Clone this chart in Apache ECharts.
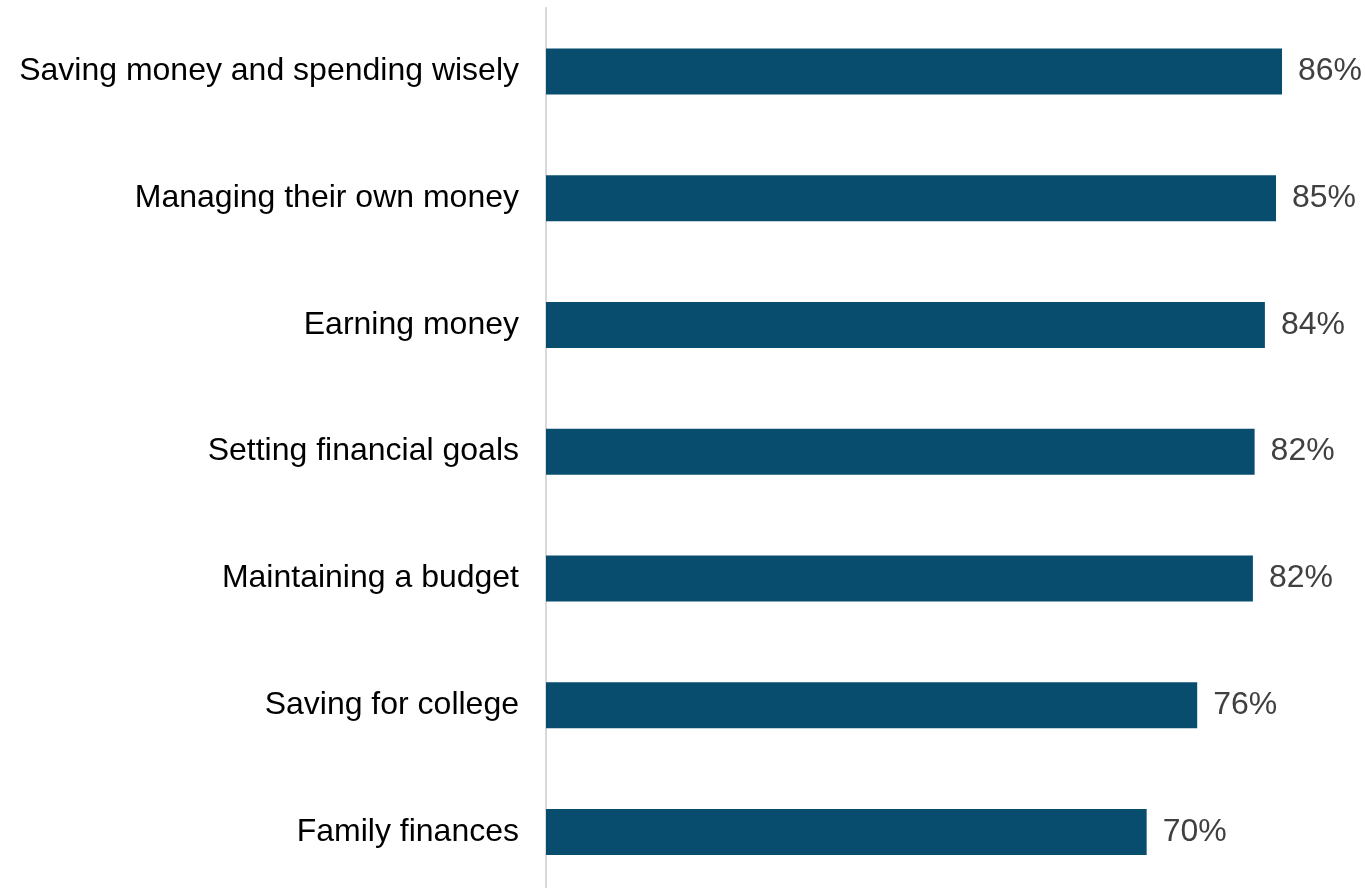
<!DOCTYPE html>
<html>
<head>
<meta charset="utf-8">
<script src="https://cdn.jsdelivr.net/npm/echarts@6/dist/echarts.min.js"></script>
<style>
html,body{margin:0;padding:0;background:#fff;}
#chart{width:1365px;height:888px;}
</style>
</head>
<body>
<div id="chart"></div>
<script>
var categories = [
  "Saving money and spending wisely",
  "Managing their own money",
  "Earning money",
  "Setting financial goals",
  "Maintaining a budget",
  "Saving for college",
  "Family finances"
];
var values = [85.9, 85.2, 83.9, 82.7, 82.5, 76.0, 70.1];
var valueLabels = ["86%", "85%", "84%", "82%", "82%", "76%", "70%"];

var chart = echarts.init(document.getElementById('chart'));
chart.setOption({
  animation: false,
  grid: { left: 546, right: 5, top: 8, height: 887.3, containLabel: false, outerBoundsMode: 'none' },
  xAxis: {
    type: 'value', min: 0, max: 95,
    show: false
  },
  yAxis: {
    type: 'category',
    data: categories,
    inverse: true,
    axisLine: { show: true, lineStyle: { color: '#d9d9d9', width: 2 } },
    axisTick: { show: false },
    splitLine: { show: false },
    axisLabel: {
      margin: 27,
      color: '#000000',
      fontSize: 32,
      fontFamily: 'Liberation Sans, Arial, sans-serif'
    }
  },
  series: [{
    type: 'bar',
    data: values,
    barWidth: 46,
    itemStyle: { color: '#084d6e' },
    label: {
      show: true,
      position: 'right',
      distance: 16,
      color: '#404040',
      fontSize: 32,
      fontFamily: 'Liberation Sans, Arial, sans-serif',
      formatter: function (p) { return valueLabels[p.dataIndex]; }
    }
  }]
});
</script>
</body>
</html>
